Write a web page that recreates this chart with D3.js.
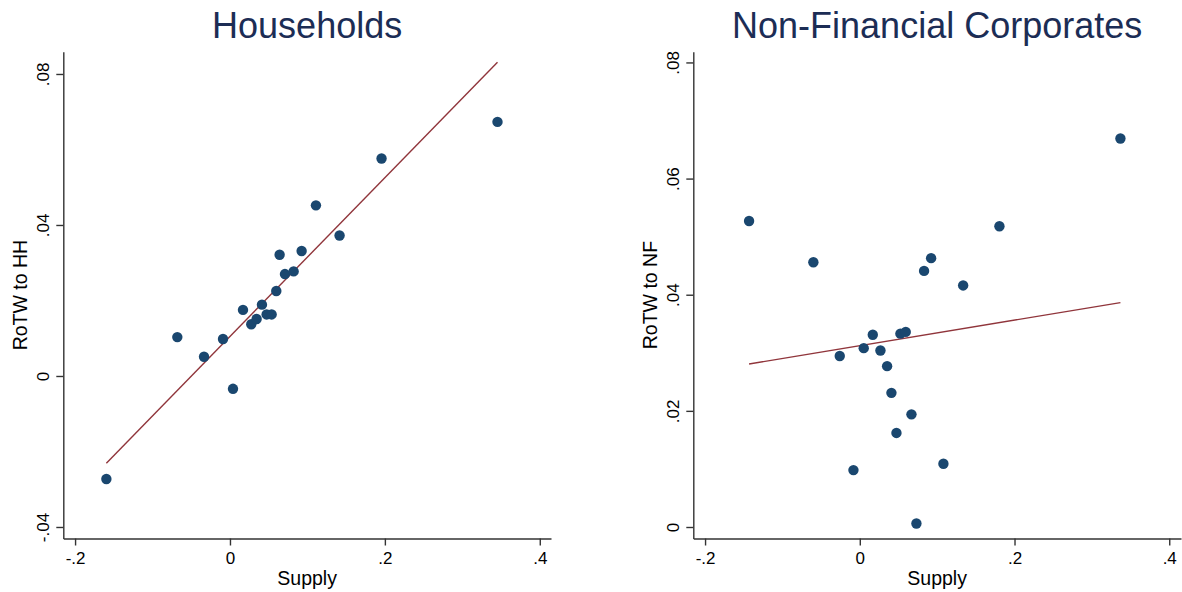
<!DOCTYPE html>
<html>
<head>
<meta charset="utf-8">
<script src="https://cdn.jsdelivr.net/npm/d3@7"></script>
<style>
  html, body { margin: 0; padding: 0; background: #fff; }
  svg { display: block; font-family: "Liberation Sans", Arial, sans-serif; }
</style>
</head>
<body>
<svg id="chart" width="1182" height="592"></svg>
<script>
// Households: supply shock vs. rest-of-the-world flows to households
const hhSupply = [-0.1596, -0.068, -0.0335, -0.009, 0.0039, 0.0168, 0.0275, 0.0344, 0.0413, 0.0473,
                  0.0538, 0.0598, 0.0641, 0.071, 0.0822, 0.0925, 0.111, 0.1415, 0.1957, 0.3454];
const hhRotw   = [-0.0273, 0.0103, 0.0051, 0.0098, -0.0034, 0.0175, 0.0137, 0.0151, 0.0189, 0.0163,
                  0.0163, 0.0225, 0.0321, 0.027, 0.0277, 0.0331, 0.0452, 0.0372, 0.0576, 0.0673];

// Non-financial corporates
const nfSupply = [-0.1431, -0.060, -0.0259, -0.0082, 0.0051, 0.0168, 0.0267, 0.0353, 0.0409, 0.0474,
                  0.0525, 0.0594, 0.0668, 0.0732, 0.0831, 0.0922, 0.1081, 0.1336, 0.1805, 0.3369];
const nfRotw   = [0.0527, 0.0456, 0.02945, 0.0098, 0.0308, 0.0331, 0.0304, 0.0277, 0.0231, 0.0162,
                  0.0333, 0.0336, 0.0194, 0.0006, 0.0441, 0.0463, 0.0109, 0.0416, 0.0518, 0.0669];

// Linear fit lines (intercept, slope) for [households, non-financial corporates]
const fitIntercept = [0.01046, 0.03122];
const fitSlope     = [0.2103, 0.0220];

// Tick values
const xTicks   = [-0.2, 0, 0.2, 0.4];
const hhYTicks = [-0.04, 0, 0.04, 0.08];
const nfYTicks = [0, 0.02, 0.04, 0.06, 0.08];

const titles = ["Households", "Non-Financial Corporates"];
const yTitles = ["RoTW to HH", "RoTW to NF"];
const xTitle = "Supply";

const DOT = "#1a476f", FIT = "#90353b", TITLE = "#1c2d55", AXIS = "#333";
const TICK_FS = 17, AXTITLE_FS = 19.5;

// Stata-style labels: drop the leading zero
const fmt = v => {
  if (Math.abs(v) < 1e-12) return "0";
  const s = String(+v.toFixed(4));
  return s.replace(/^(-?)0\./, "$1.");
};

const svg = d3.select("#chart");

function panel(cfg) {
  const { left, right, top, bottom, xDomain, yDomain, xs, ys, yTicks, title, yTitle, a, b } = cfg;
  const x = d3.scaleLinear().domain(xDomain).range([left, right]);
  const y = d3.scaleLinear().domain(yDomain).range([bottom, top]);
  const g = svg.append("g");

  // title
  g.append("text")
    .attr("x", (left + right) / 2).attr("y", 38)
    .attr("text-anchor", "middle")
    .attr("font-size", 36).attr("fill", TITLE)
    .text(title);

  // x axis
  const xAxis = g.append("g").attr("transform", `translate(0,${bottom})`)
    .call(d3.axisBottom(x).tickValues(xTicks).tickFormat(fmt).tickSize(7).tickSizeOuter(0));
  xAxis.select(".domain").attr("stroke", AXIS).attr("stroke-width", 1.4);
  xAxis.selectAll(".tick line").attr("stroke", AXIS).attr("stroke-width", 1.4);
  xAxis.selectAll(".tick text")
    .attr("font-size", TICK_FS).attr("fill", "#000")
    .attr("font-family", "Liberation Sans, Arial, sans-serif")
    .attr("dy", null).attr("y", 25);

  // y axis
  const yAxis = g.append("g").attr("transform", `translate(${left},0)`)
    .call(d3.axisLeft(y).tickValues(yTicks).tickFormat(fmt).tickSize(7).tickSizeOuter(0));
  yAxis.select(".domain").attr("stroke", AXIS).attr("stroke-width", 1.4);
  yAxis.selectAll(".tick line").attr("stroke", AXIS).attr("stroke-width", 1.4);
  yAxis.selectAll(".tick text")
    .attr("font-size", TICK_FS).attr("fill", "#000")
    .attr("font-family", "Liberation Sans, Arial, sans-serif")
    .attr("x", null).attr("dy", null)
    .attr("text-anchor", "middle")
    .attr("transform", "translate(-14.5,0) rotate(-90)");

  // axis titles
  g.append("text")
    .attr("x", (left + right) / 2).attr("y", 585)
    .attr("text-anchor", "middle").attr("font-size", AXTITLE_FS).attr("fill", "#000")
    .text(xTitle);
  g.append("text")
    .attr("transform", `translate(${left - 36.6},${(top + bottom) / 2}) rotate(-90)`)
    .attr("text-anchor", "middle").attr("font-size", AXTITLE_FS).attr("fill", "#000")
    .text(yTitle);

  // fitted line over the observed supply range
  const [x0, x1] = d3.extent(xs);
  g.append("line")
    .attr("x1", x(x0)).attr("y1", y(a + b * x0))
    .attr("x2", x(x1)).attr("y2", y(a + b * x1))
    .attr("stroke", FIT).attr("stroke-width", 1.4);

  // points
  g.append("g").selectAll("circle")
    .data(xs.map((v, i) => [v, ys[i]]))
    .join("circle")
    .attr("cx", d => x(d[0])).attr("cy", d => y(d[1]))
    .attr("r", 5.2).attr("fill", DOT);
}

panel({
  left: 63.3, right: 551, top: 51.7, bottom: 538.5,
  xDomain: [-0.2152, 0.4145], yDomain: [-0.04305, 0.0859],
  xs: hhSupply, ys: hhRotw, yTicks: hhYTicks,
  title: titles[0], yTitle: yTitles[0],
  a: fitIntercept[0], b: fitSlope[0]
});

panel({
  left: 693.3, right: 1181, top: 51.7, bottom: 538.5,
  xDomain: [-0.2152, 0.4152], yDomain: [-0.00198, 0.08185],
  xs: nfSupply, ys: nfRotw, yTicks: nfYTicks,
  title: titles[1], yTitle: yTitles[1],
  a: fitIntercept[1], b: fitSlope[1]
});
</script>
</body>
</html>
